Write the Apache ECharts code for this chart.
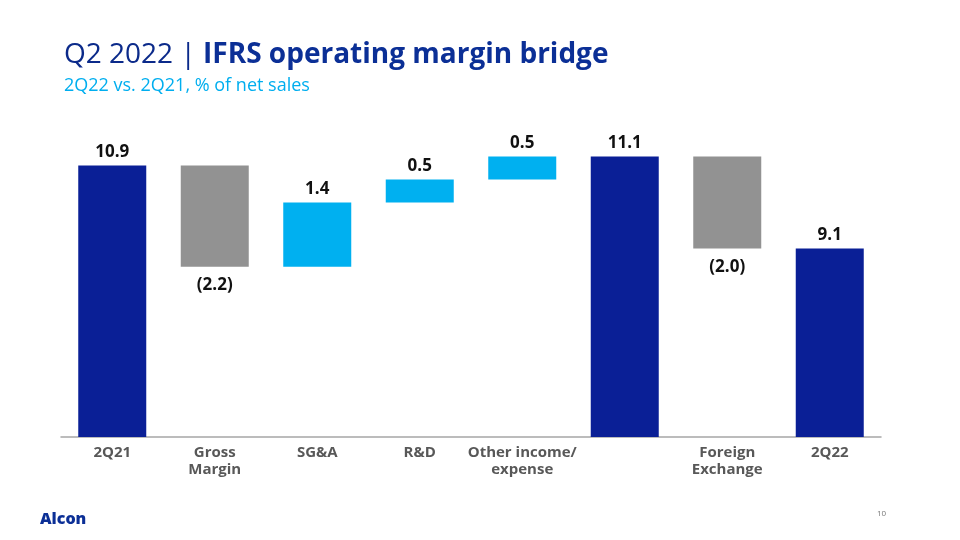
<!DOCTYPE html>
<html>
<head>
<meta charset="utf-8">
<script src="https://cdn.jsdelivr.net/npm/echarts@6/dist/echarts.min.js"></script>
<style>html,body{margin:0;padding:0;background:#fff}#c{width:960px;height:540px}</style>
</head>
<body>
<div id="c"></div>
<script>
const categories = ['2Q21', 'Gross\nMargin', 'SG&A', 'R&D', 'Other income/\nexpense', '', 'Foreign\nExchange', '2Q22'];
const values = [10.9, -2.2, 1.4, 0.5, 0.5, 11.1, -2.0, 9.1];
const isTotal = [true, false, false, false, false, true, false, true];

const DARK = '#0A1F96', GRAY = '#929292', LIGHT = '#00B0F0';

const baseData = [];
const barData = [];
let running = 0;
values.forEach((v, i) => {
  if (isTotal[i]) {
    running = v;
    baseData.push(0);
    barData.push({ value: v, raw: v, itemStyle: { color: DARK }, label: { position: 'top', distance: 5 } });
  } else {
    const low = Math.min(running, running + v);
    baseData.push(low);
    barData.push({
      value: Math.abs(v), raw: v,
      itemStyle: { color: v < 0 ? GRAY : LIGHT },
      label: { position: v < 0 ? 'bottom' : 'top', distance: v < 0 ? 10 : 5 }
    });
    running += v;
  }
});

const chart = echarts.init(document.getElementById('c'));
chart.setOption({
  animation: false,
  textStyle: { fontFamily: 'Open Sans' },
  title: [{
    left: 59, top: 36,
    text: '{a|Q2 2022 | }{b|IFRS operating margin bridge}',
    textStyle: {
      rich: {
        a: { fontFamily: 'Open Sans', fontSize: 28, fontWeight: 'normal', color: '#0B2A8A' },
        b: { fontFamily: 'Open Sans', fontSize: 28, fontWeight: 'bold', color: '#0B2F96' }
      }
    }
  }, {
    left: 59, top: 72,
    text: '2Q22 vs. 2Q21, % of net sales',
    textStyle: { fontFamily: 'Open Sans', fontSize: 18, fontWeight: 'normal', color: '#00AEEF' }
  }],
  grid: { left: 61, right: 79, top: 115, bottom: 103, containLabel: false },
  xAxis: {
    type: 'category',
    data: categories,
    axisLine: { lineStyle: { color: '#A6A6A6', width: 1.5 } },
    axisTick: { show: false },
    axisLabel: {
      interval: 0, margin: 7,
      fontFamily: 'Open Sans', fontSize: 15, fontWeight: 'bold', color: '#585858', lineHeight: 17
    }
  },
  yAxis: { type: 'value', min: 5, max: 12, show: false, splitLine: { show: false } },
  series: [{
    type: 'bar', stack: 'w', clip: true, silent: true,
    data: baseData, barWidth: 68,
    itemStyle: { color: 'transparent' }
  }, {
    type: 'bar', stack: 'w', clip: true,
    data: barData, barWidth: 68,
    label: {
      show: true,
      fontFamily: 'Open Sans', fontSize: 17, fontWeight: 'bold', color: '#111',
      formatter: p => {
        const r = p.data.raw;
        return r < 0 ? '(' + Math.abs(r).toFixed(1) + ')' : r.toFixed(1);
      }
    }
  }],
  graphic: [{
    type: 'text', left: 40, top: 511,
    style: { text: 'Alcon', font: '900 16px "Open Sans"', fill: '#0B2F96' }
  }, {
    type: 'text', left: 877, top: 510,
    style: { text: '10', font: '8px "Open Sans"', fill: '#777' }
  }]
});
</script>
</body>
</html>
